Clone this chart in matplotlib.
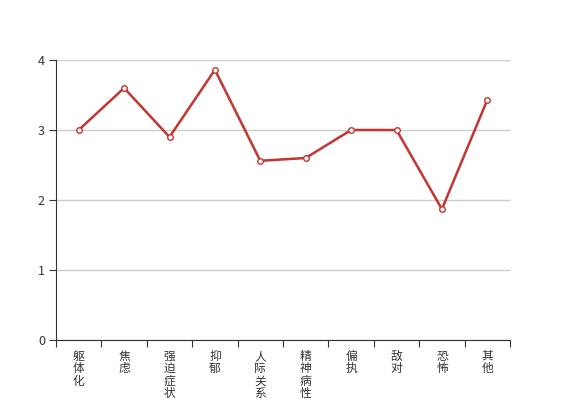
import matplotlib
matplotlib.use('Agg')
import matplotlib.pyplot as plt
import numpy as np

plt.rcParams['font.family'] = ['Noto Sans CJK SC', 'DejaVu Sans']

categories = ['躯体化', '焦虑', '强迫症状', '抑郁', '人际关系敏感',
              '精神病性', '偏执', '敌对', '恐怖', '其他']
values = [3.0, 3.6, 2.9, 3.86, 2.56, 2.6, 3.0, 3.0, 1.87, 3.43]
yticks = [0, 1, 2, 3, 4]

fig = plt.figure(figsize=(5.67, 4.0), dpi=100)
ax = fig.add_axes([56 / 567, 60 / 400, 454 / 567, 280 / 400])

x = np.arange(len(categories))
ax.plot(x, values, color='#c23531', linewidth=1.8, marker='o', markersize=4,
        markerfacecolor='white', markeredgecolor='#c23531', markeredgewidth=1,
        zorder=3, clip_on=False)

ax.set_xlim(-0.5, len(categories) - 0.5)
ax.set_ylim(0, 4)
ax.set_yticks(yticks)
ax.yaxis.grid(True, color='#cccccc', linewidth=1)
ax.set_axisbelow(True)

# boundary ticks between categories, labels centred on categories
ax.set_xticks(np.arange(-0.5, len(categories)), labels=[])
ax.set_xticks(x, labels=['\n'.join(c) for c in categories], minor=True)
ax.tick_params(axis='x', which='major', length=5, color='#333333', direction='out')
ax.tick_params(axis='x', which='minor', length=0, pad=7, labelsize=8.5,
               labelcolor='#333333')
for lbl in ax.get_xticklabels(minor=True):
    lbl.set_linespacing(0.95)
    lbl.set_verticalalignment('top')
ax.tick_params(axis='y', length=5, color='#333333', labelsize=9,
               labelcolor='#333333', pad=3)

for s in ['top', 'right']:
    ax.spines[s].set_visible(False)
for s in ['left', 'bottom']:
    ax.spines[s].set_color('#333333')

fig.savefig('out.png', dpi=100)
